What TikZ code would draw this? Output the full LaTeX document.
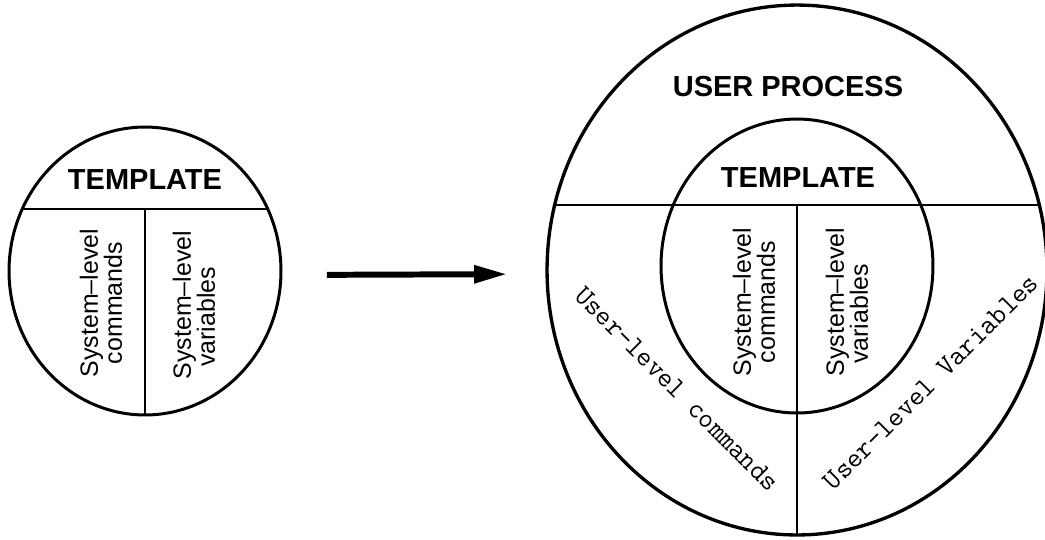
\documentclass[tikz,border=0pt]{standalone}
\usepackage{fontspec}
\setmainfont{Liberation Sans}
\setsansfont{Liberation Sans}
\usetikzlibrary{arrows.meta,shapes.geometric}
\tikzset{
  ring/.style={draw,ellipse,line width=1.7pt,inner sep=0pt,outer sep=0pt},
  cut/.style={line width=1.1pt},
  ttl/.style={font=\fontsize{16.5}{18}\selectfont\bfseries,anchor=base,inner sep=0pt},
  sys/.style={font=\fontsize{14.2}{13.7}\selectfont,align=center,rotate=90,inner sep=0pt},
  usr/.style={font=\ttfamily\addfontfeatures{FakeBold=1.5}\fontsize{16.1}{18}\selectfont,inner sep=0pt},
  bigarr/.style={-{Triangle[length=0.66cm,width=0.34cm]},line width=3.4pt}
}
\begin{document}
\begin{tikzpicture}[x=0.02cm,y=-0.02cm]
  \useasboundingbox (0,0) rectangle (1045,539);
  % template on its own
  \node[ring,minimum width=5.44cm,minimum height=5.76cm] (tpl) at (145,271) {};
  \draw[cut] (tpl.153) -- (tpl.27);
  \draw[cut] (tpl.south) -- (tpl.south |- tpl.27);
  \node[ttl] (tplname) at (145,189) {TEMPLATE};
  \node[sys] (tplcmd) at (101,303) {System–level\\commands};
  \node[sys] (tplvar) at (194,305) {System–level\\variables\hspace*{0.48cm}};

  % user process holding the template
  \node[ring,line width=1.9pt,minimum width=10cm,minimum height=10.6cm] (proc) at (797,270) {};
  \node[ring,minimum width=5.44cm,minimum height=5.88cm] (inner) at (797,266) {};
  \draw[cut] (proc.165) -- (proc.15);
  \draw[cut] (proc.south) -- (proc.south |- proc.15);
  \node[ttl] (procname) at (788,96) {USER PROCESS};
  \node[ttl] (innername) at (798,187) {TEMPLATE};
  \node[sys] (innercmd) at (754,302) {System–level\\commands};
  \node[sys] (innervar) at (847,302) {System–level\\variables\hspace*{0.48cm}};
  \node[usr,rotate=-45] (usrcmd) at (677,389) {User-level commands};
  \node[usr,rotate=45] (usrvar) at (931,382) {User-level Variables};

  \draw[bigarr,shorten <=0.92cm,shorten >=0.8cm] ([yshift=-0.08cm]tpl.east) -- ([yshift=-0.08cm]proc.west);
\end{tikzpicture}
\end{document}
